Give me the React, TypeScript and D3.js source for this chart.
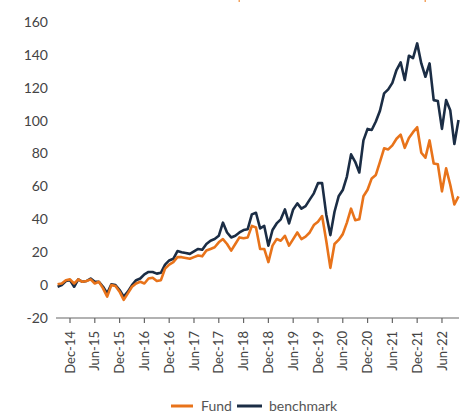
import React from 'react'
import * as d3 from 'd3'

// monthly points, Sep-14 .. Oct-22
const startYear = 2014
const startMonth = 8 // September (0-based)

const fund = [
  0.5, 1, 3, 3.5, 1, 3.5, 2, 2.5, 3.5, 1, 2, -2, -7, 0, -0.5, -4, -9, -5, -1, 1,
  2, 1, 4, 4.5, 2.5, 3, 10, 12.5, 14, 17, 17, 16.5, 16, 17, 18, 17.5, 21, 22, 23, 26,
  28, 25, 21, 25, 29, 28.5, 29, 36, 35, 22, 22, 14, 24, 28, 27, 30, 24, 28, 32, 28,
  29.5, 32, 36.5, 38.5, 42, 27, 10.5, 25, 27.5, 31, 38, 46.5, 39.5, 40, 54, 58, 64.9, 67, 75, 83.2,
  82.5, 85, 89, 91.5, 83.5, 89.5, 93, 96, 80.5, 77.5, 88, 74, 73.5, 57, 71, 61, 49, 54,
]

const benchmark = [
  -1, 0, 2.5, 3, -1, 3.5, 2, 2.5, 4, 2, 2, -1, -5, 0.5, 0, -3, -7, -4, 0, 3,
  4, 6.5, 8, 8, 7, 7.5, 12.5, 15, 16, 20.7, 20, 19.5, 19, 20.5, 22, 21.5, 25, 27, 28, 30,
  38, 32, 29, 30, 32, 33.5, 34, 43, 44, 34.5, 36, 24, 33.5, 37.5, 40, 46, 37.5, 46, 49.7, 46.5,
  48, 52, 55.8, 62, 62, 43, 30.4, 44.6, 54, 57.8, 66, 79.5, 75, 68.5, 88, 95, 94.3, 99.5, 106, 116.6,
  119, 123, 130.8, 135.5, 124.7, 139.5, 138, 147, 134.8, 126.7, 134.8, 112.5, 112, 95, 112.5, 106.4, 85.8, 100.4,
]

const yTicks = [-20, 0, 20, 40, 60, 80, 100, 120, 140, 160]

const xTickLabels = [
  'Dec-14', 'Jun-15', 'Dec-15', 'Jun-16', 'Dec-16', 'Jun-17', 'Dec-17', 'Jun-18',
  'Dec-18', 'Jun-19', 'Dec-19', 'Jun-20', 'Dec-20', 'Jun-21', 'Dec-21', 'Jun-22',
]

const seriesNames = ['Fund', 'benchmark']
const colors = ['#E8731A', '#1B2D45']

const monthLabel = (i: number) => {
  const d = new Date(startYear, startMonth + i, 1)
  return d3.timeFormat('%b-%y')(d)
}

const App = () => {
  const width = 467
  const height = 414
  const font = 'Lato, "Open Sans", sans-serif'

  const labels = fund.map((_, i) => monthLabel(i))
  const x = d3.scalePoint<string>().domain(labels).range([57.6, 458.5])
  const y = d3.scaleLinear().domain([-20, 160]).range([318, 22])

  const line = d3
    .line<number>()
    .x((_, i) => x(labels[i]) as number)
    .y((d) => y(d))

  return (
    <svg
      width={width}
      height={height}
      style={{ position: 'absolute', left: 0, top: 0, background: '#fff' }}
      fontFamily={font}
    >
      {/* clipped title remnants */}
      <rect x={238.5} y={0} width={1.5} height={2} fill="#F4A460" />
      <rect x={424.5} y={0} width={1.5} height={2} fill="#F4A460" />

      {yTicks.map((t) => (
        <text key={t} x={48} y={y(t)} dy="0.35em" textAnchor="end" fontSize={14} fill="#444">
          {t}
        </text>
      ))}

      <line x1={56} x2={459} y1={y(-20)} y2={y(-20)} stroke="#666" strokeWidth={1.2} />
      {xTickLabels.map((l) => {
        const xp = x(l) as number
        return (
          <g key={l} transform={`translate(${xp},${y(-20)})`}>
            <line y1={0} y2={5} stroke="#666" strokeWidth={1.2} />
            <text
              transform="rotate(-90)"
              x={-13}
              y={0}
              dy="0.35em"
              textAnchor="end"
              fontSize={13}
              fill="#444"
            >
              {l}
            </text>
          </g>
        )
      })}

      <path d={line(benchmark) || ''} fill="none" stroke={colors[1]} strokeWidth={2.6} strokeLinejoin="round" />
      <path d={line(fund) || ''} fill="none" stroke={colors[0]} strokeWidth={2.6} strokeLinejoin="round" />

      <g transform="translate(171,406)">
        <line x1={0} x2={22} y1={0} y2={0} stroke={colors[0]} strokeWidth={3} />
        <text x={30} y={0} dy="0.35em" fontSize={14} fill="#555">
          {seriesNames[0]}
        </text>
        <line x1={66} x2={91} y1={0} y2={0} stroke={colors[1]} strokeWidth={3} />
        <text x={98} y={0} dy="0.35em" fontSize={14} fill="#555">
          {seriesNames[1]}
        </text>
      </g>
    </svg>
  )
}

export default App
